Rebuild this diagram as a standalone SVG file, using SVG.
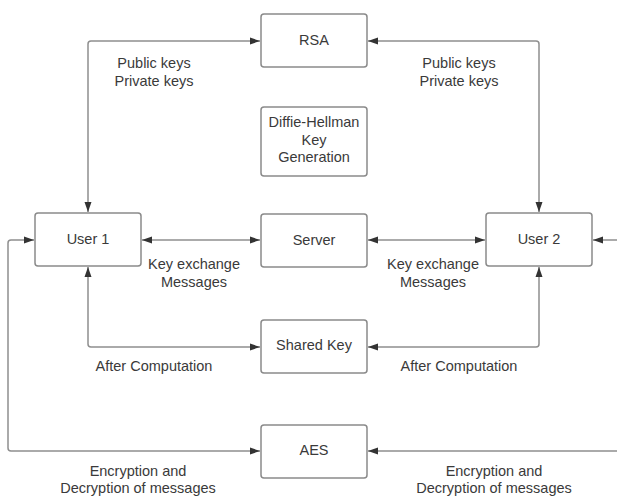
<svg xmlns="http://www.w3.org/2000/svg" width="617" height="498" viewBox="0 0 617 498">
<defs>
<marker id="ah" viewBox="0 0 10 10" refX="10" refY="5" markerWidth="10" markerHeight="10" markerUnits="userSpaceOnUse" orient="auto-start-reverse">
<path d="M0,1.5 L10,5 L0,8.5 Z" fill="#333"/>
</marker>
<style>
.box{fill:#fff;stroke:#8a8a8a;stroke-width:1.5}
.ln{fill:none;stroke:#8f8f8f;stroke-width:1.5;stroke-linejoin:round}
.t{font-family:"Liberation Sans",Arial,sans-serif;font-size:14.5px;fill:#3a3a3a;text-anchor:middle;dominant-baseline:central}
</style>
</defs>
<rect width="617" height="498" fill="#fff"/>
<g id="connectors">
<path class="ln" d="M88,212 V44 Q88,41 91,41 H260" marker-start="url(#ah)" marker-end="url(#ah)"/>
<path class="ln" d="M539,212 V44 Q539,41 536,41 H368" marker-start="url(#ah)" marker-end="url(#ah)"/>
<path class="ln" d="M142,240 H260" marker-start="url(#ah)" marker-end="url(#ah)"/>
<path class="ln" d="M368,240 H485" marker-start="url(#ah)" marker-end="url(#ah)"/>
<path class="ln" d="M88,267 V344 Q88,347 91,347 H260" marker-start="url(#ah)" marker-end="url(#ah)"/>
<path class="ln" d="M539,267 V344 Q539,347 536,347 H368" marker-start="url(#ah)" marker-end="url(#ah)"/>
<path class="ln" d="M260,451 H11 Q8,451 8,448 V243 Q8,240 11,240 H34" marker-start="url(#ah)" marker-end="url(#ah)"/>
<path class="ln" d="M368,451 H622 V240 H593" marker-start="url(#ah)" marker-end="url(#ah)"/>
</g>
<g id="rsa"><rect class="box" x="261" y="14" width="106" height="53" rx="3"/><text class="t" x="314" y="40">RSA</text></g>
<g id="dh"><rect class="box" x="261" y="107" width="106" height="69" rx="3"/><text class="t" x="314" y="122">Diffie-Hellman</text><text class="t" x="314" y="140">Key</text><text class="t" x="314" y="157">Generation</text></g>
<g id="server"><rect class="box" x="261" y="214" width="106" height="53" rx="3"/><text class="t" x="314" y="240">Server</text></g>
<g id="user1"><rect class="box" x="35" y="213" width="106" height="53" rx="3"/><text class="t" x="88" y="239">User 1</text></g>
<g id="user2"><rect class="box" x="486" y="213" width="106" height="53" rx="3"/><text class="t" x="539" y="239">User 2</text></g>
<g id="sharedkey"><rect class="box" x="261" y="320" width="106" height="53" rx="3"/><text class="t" x="314" y="345">Shared Key</text></g>
<g id="aes"><rect class="box" x="261" y="425" width="106" height="53" rx="3"/><text class="t" x="314" y="450">AES</text></g>
<g id="labels">
<text class="t" x="154" y="63">Public keys</text><text class="t" x="154" y="81">Private keys</text>
<text class="t" x="459" y="63">Public keys</text><text class="t" x="459" y="81">Private keys</text>
<text class="t" x="194" y="264">Key exchange</text><text class="t" x="194" y="282">Messages</text>
<text class="t" x="433" y="264">Key exchange</text><text class="t" x="433" y="282">Messages</text>
<text class="t" x="154" y="366">After Computation</text>
<text class="t" x="459" y="366">After Computation</text>
<text class="t" x="138" y="471">Encryption and</text><text class="t" x="138" y="488">Decryption of messages</text>
<text class="t" x="494" y="471">Encryption and</text><text class="t" x="494" y="488">Decryption of messages</text>
</g>
</svg>
